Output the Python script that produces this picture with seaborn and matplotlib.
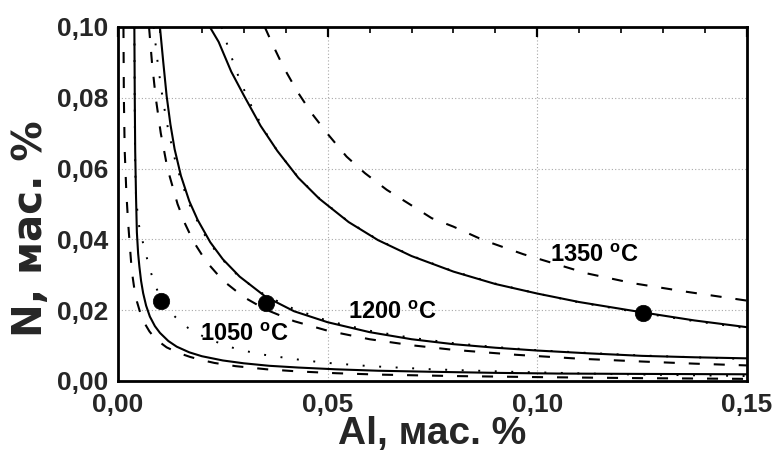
import matplotlib
matplotlib.use("Agg")
import matplotlib.pyplot as plt
import seaborn as sns
import pandas as pd
from matplotlib.ticker import MultipleLocator, FuncFormatter

# ---- data ----
# 1050 C
s1050_x = [0.0039, 0.0040, 0.0041, 0.0043, 0.0045, 0.0048, 0.0051, 0.0055, 0.0060, 0.0067, 0.0076,
           0.0088, 0.0100, 0.0120, 0.0140, 0.0170, 0.0200, 0.0250, 0.0300, 0.0360, 0.0430, 0.0520,
           0.0620, 0.0750, 0.0900, 0.1050, 0.1250, 0.1500]
s1050_y = [0.1000, 0.0800, 0.0650, 0.0520, 0.0420, 0.0360, 0.0323, 0.0283, 0.0248, 0.0213, 0.0182,
           0.0155, 0.0136, 0.0113, 0.0097, 0.0081, 0.0070, 0.0058, 0.0050, 0.0043, 0.0038, 0.0033,
           0.0029, 0.0026, 0.0023, 0.0021, 0.0020, 0.0019]
d1050_x = [0.0013, 0.0014, 0.0016, 0.0020, 0.0024, 0.0029, 0.0033, 0.0039, 0.0045, 0.0055, 0.0065,
           0.0075, 0.0090, 0.0116, 0.0145, 0.0172, 0.0200, 0.0230, 0.0280, 0.0355, 0.0430, 0.0520,
           0.0625, 0.0800, 0.1000, 0.1250, 0.1500]
d1050_y = [0.1000, 0.0800, 0.0650, 0.0530, 0.0450, 0.0370, 0.0310, 0.0260, 0.0225, 0.0185, 0.0160,
           0.0140, 0.0118, 0.0095, 0.0079, 0.0068, 0.0059, 0.0051, 0.0042, 0.0033, 0.0027, 0.0022,
           0.0018, 0.0014, 0.0011, 0.0008, 0.0006]
p1050_x = [0.0039, 0.0040, 0.0041, 0.0043, 0.0049, 0.0058, 0.0067, 0.0076, 0.0088, 0.0105, 0.0120,
           0.0140, 0.0168, 0.0200, 0.0231, 0.0267, 0.0303, 0.0343, 0.0420, 0.0490, 0.0600, 0.0750,
           0.0940, 0.1200, 0.1500]
p1050_y = [0.1000, 0.0750, 0.0600, 0.0520, 0.0445, 0.0398, 0.0356, 0.0316, 0.0271, 0.0228, 0.0200,
           0.0177, 0.0149, 0.0128, 0.0112, 0.0096, 0.0085, 0.0075, 0.0062, 0.0052, 0.0042, 0.0033,
           0.0026, 0.0019, 0.0014]
# 1200 C
s1200_x = [0.0100, 0.0108, 0.0116, 0.0125, 0.0135, 0.0150, 0.0170, 0.0190, 0.0220, 0.0250, 0.0290,
           0.0352, 0.0420, 0.0500, 0.0600, 0.0700, 0.0800, 0.0900, 0.1000, 0.1125, 0.1250, 0.1375,
           0.1500]
s1200_y = [0.1000, 0.0900, 0.0805, 0.0725, 0.0655, 0.0580, 0.0508, 0.0455, 0.0392, 0.0344, 0.0295,
           0.0238, 0.0197, 0.0166, 0.0138, 0.0118, 0.0104, 0.0094, 0.0086, 0.0078, 0.0071, 0.0067,
           0.0064]
d1200_x = [0.0074, 0.0081, 0.0090, 0.0102, 0.0118, 0.0142, 0.0160, 0.0180, 0.0210, 0.0250, 0.0300,
           0.0352, 0.0420, 0.0500, 0.0600, 0.0700, 0.0800, 0.0950, 0.1100, 0.1250, 0.1375, 0.1500]
d1200_y = [0.1000, 0.0900, 0.0800, 0.0700, 0.0600, 0.0500, 0.0444, 0.0394, 0.0338, 0.0284, 0.0237,
           0.0202, 0.0169, 0.0142, 0.0118, 0.0101, 0.0088, 0.0074, 0.0063, 0.0055, 0.0049, 0.0044]
p1200_x = [0.0085, 0.0095, 0.0107, 0.0120, 0.0135, 0.0150, 0.0170, 0.0200, 0.0240, 0.0290, 0.0350,
           0.0420, 0.0500, 0.0600, 0.0700, 0.0800, 0.0900, 0.1000, 0.1125, 0.1250, 0.1375, 0.1500]
p1200_y = [0.1000, 0.0895, 0.0794, 0.0708, 0.0630, 0.0567, 0.0500, 0.0425, 0.0354, 0.0293, 0.0243,
           0.0203, 0.0170, 0.0142, 0.0122, 0.0107, 0.0096, 0.0087, 0.0079, 0.0072, 0.0067, 0.0062]
# 1350 C
s1350_x = [0.0219, 0.0240, 0.0270, 0.0300, 0.0340, 0.0380, 0.0430, 0.0480, 0.0550, 0.0620, 0.0700,
           0.0800, 0.0900, 0.1000, 0.1100, 0.1250, 0.1375, 0.1500]
s1350_y = [0.1000, 0.0958, 0.0874, 0.0807, 0.0721, 0.0650, 0.0574, 0.0515, 0.0449, 0.0398, 0.0353,
           0.0309, 0.0274, 0.0247, 0.0223, 0.0194, 0.0171, 0.0152]
d1350_x = [0.0350, 0.0367, 0.0394, 0.0428, 0.0462, 0.0502, 0.0545, 0.0589, 0.0641, 0.0692, 0.0748,
           0.0800, 0.0871, 0.0967, 0.1118, 0.1229, 0.1356, 0.1500]
d1350_y = [0.1000, 0.0955, 0.0888, 0.0817, 0.0756, 0.0695, 0.0634, 0.0587, 0.0540, 0.0502, 0.0460,
           0.0436, 0.0398, 0.0358, 0.0304, 0.0276, 0.0252, 0.0227]
p1350_x = [0.0247, 0.0266, 0.0291, 0.0320, 0.0350, 0.0380, 0.0430, 0.0480, 0.0550, 0.0620, 0.0700,
           0.0800, 0.0900, 0.1000, 0.1100, 0.1250, 0.1375, 0.1500]
p1350_y = [0.1000, 0.0930, 0.0848, 0.0772, 0.0706, 0.0650, 0.0575, 0.0516, 0.0450, 0.0399, 0.0354,
           0.0310, 0.0275, 0.0247, 0.0222, 0.0192, 0.0169, 0.0149]

# experimental points
pts_al = [0.0103, 0.0352, 0.1252]
pts_n = [0.0226, 0.0219, 0.0193]

temp_labels = ["1050", "1200", "1350"]
label_x = [0.0196, 0.0549, 0.1030]
label_y = [0.0112, 0.0175, 0.0336]

x_ticks = [0.00, 0.05, 0.10, 0.15]
y_ticks = [0.00, 0.02, 0.04, 0.06, 0.08, 0.10]

# ---- style ----
sns.set_style("white")
plt.rcParams["font.family"] = ["Liberation Sans", "DejaVu Sans"]
plt.rcParams["font.weight"] = "bold"
plt.rcParams["mathtext.fontset"] = "custom"
plt.rcParams["mathtext.rm"] = "Liberation Sans:bold"
plt.rcParams["mathtext.bf"] = "Liberation Sans:bold"

fig = plt.figure(figsize=(7.77, 4.53), dpi=100)
ax = fig.add_axes([118 / 777, 72 / 453, 629 / 777, 354 / 453])

solid = dict(color="black", lw=1.5, linestyle="-")
dashed = dict(color="black", lw=1.5, linestyle=(0, (5.3, 6.7)))
dotted = dict(color="black", lw=1.4, linestyle=(0, (1, 7.5)))

curves = [
    (s1050_x, s1050_y, solid), (d1050_x, d1050_y, dashed), (p1050_x, p1050_y, dotted),
    (s1200_x, s1200_y, solid), (d1200_x, d1200_y, dashed), (p1200_x, p1200_y, dotted),
    (s1350_x, s1350_y, solid), (d1350_x, d1350_y, dashed), (p1350_x, p1350_y, dotted),
]
for cx, cy, st in curves:
    df = pd.DataFrame({"x": cx, "y": cy})
    sns.lineplot(data=df, x="x", y="y", ax=ax, sort=False, estimator=None,
                 legend=False, solid_joinstyle="round", **st)

sns.scatterplot(x=pts_al, y=pts_n, ax=ax, color="black", s=140, edgecolor="black",
                linewidth=0.5, zorder=5, legend=False)

for t, lx, ly in zip(temp_labels, label_x, label_y):
    ax.text(lx, ly, t + r" $^{\mathrm{o}}$C", fontsize=17, fontweight="bold",
            ha="left", va="baseline", color="black")

ax.set_xlim(0, 0.15)
ax.set_ylim(0, 0.10)
ax.set_xticks(x_ticks)
ax.set_yticks(y_ticks)
ax.xaxis.set_minor_locator(MultipleLocator(0.01))
ax.yaxis.set_minor_locator(MultipleLocator(0.01))
fmt = FuncFormatter(lambda v, p: f"{v:.2f}".replace(".", ","))
ax.xaxis.set_major_formatter(fmt)
ax.yaxis.set_major_formatter(fmt)

ax.grid(True, which="major", color="#a8a8a8", linestyle=(0, (1, 2)), lw=0.8)
ax.set_axisbelow(True)
ax.tick_params(which="both", direction="in", top=True, right=False, color="black")
ax.tick_params(which="major", length=7, width=1.6, labelsize=19)
ax.tick_params(axis="x", which="major", pad=9)
ax.tick_params(axis="y", which="major", pad=7)
ax.tick_params(which="minor", length=4, width=1.2)
for lab in ax.get_xticklabels() + ax.get_yticklabels():
    lab.set_fontweight("bold")
for sp in ax.spines.values():
    sp.set_visible(True)
    sp.set_linewidth(2.0)
    sp.set_color("black")

ax.set_xlabel("Al, мас. %", fontsize=28, fontweight="bold")
ax.set_ylabel("N, мас. %", fontsize=29, fontweight="bold",
              family=["DejaVu Sans"])
ax.xaxis.set_label_coords(0.5, -0.1)
ax.yaxis.set_label_coords(-0.106, 0.43)

fig.savefig("out.png", dpi=100)
